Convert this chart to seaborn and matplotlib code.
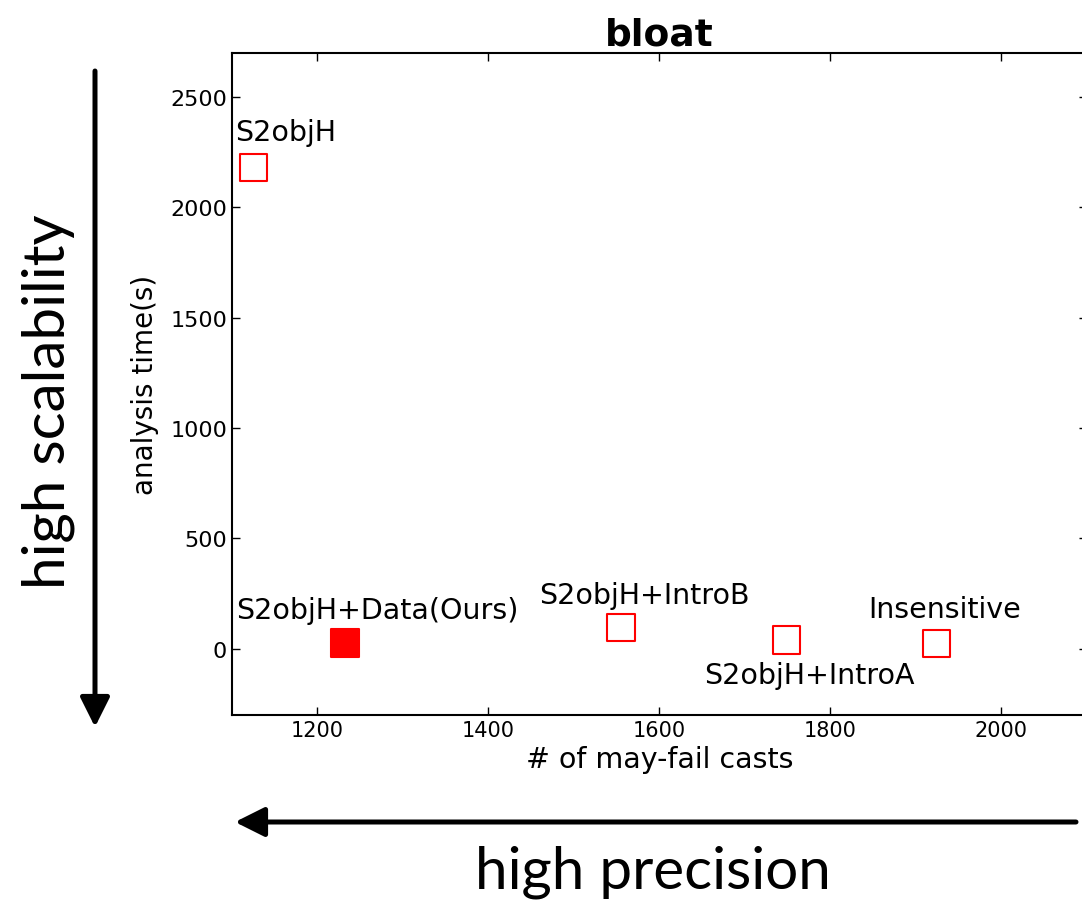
import matplotlib
matplotlib.use("Agg")
import matplotlib.pyplot as plt
import seaborn as sns
import pandas as pd

configs = ['S2objH', 'S2objH+Data(Ours)', 'S2objH+IntroB', 'S2objH+IntroA', 'Insensitive']
may_fail_casts = [1125, 1232, 1555, 1748, 1924]
analysis_time = [2180, 28, 95, 40, 23]
ours = [False, True, False, False, False]

df = pd.DataFrame({'config': configs, 'casts': may_fail_casts, 'time': analysis_time, 'ours': ours})

sns.set_style("ticks")
plt.rcParams['font.family'] = ['DejaVu Sans']
plt.rcParams['text.color'] = 'black'
plt.rcParams['axes.labelcolor'] = 'black'
plt.rcParams['xtick.direction'] = 'in'
plt.rcParams['ytick.direction'] = 'in'
plt.rcParams['xtick.top'] = True
plt.rcParams['ytick.right'] = True
plt.rcParams['xtick.major.size'] = 6
plt.rcParams['ytick.major.size'] = 6

fig = plt.figure(figsize=(10.82, 9.04), dpi=100)
ax = fig.add_axes([232 / 1082, 1 - 716 / 904, 855 / 1082, 662 / 904])

sns.scatterplot(data=df[~df['ours']], x='casts', y='time', marker='s', s=380,
                facecolor='none', edgecolor='red', linewidth=1.5, ax=ax)
sns.scatterplot(data=df[df['ours']], x='casts', y='time', marker='s', s=380,
                color='red', edgecolor='red', linewidth=1.5, ax=ax)

# label offsets in points (dx, dy, ha)
offsets = [(-13, 20, 'left'), (-78, 18, 'left'), (17, 18, 'center'), (17, -31, 'center'), (6, 19, 'center')]
for (name, x, y), (dx, dy, ha) in zip(zip(configs, may_fail_casts, analysis_time), offsets):
    ax.annotate(name, (x, y), xytext=(dx, dy), textcoords='offset points',
                ha=ha, va='baseline', fontsize=20.5, color='black')

ax.set_xlim(1100, 2100)
ax.set_ylim(-300, 2700)
ax.set_xticks([1200, 1400, 1600, 1800, 2000])
ax.set_yticks([0, 500, 1000, 1500, 2000, 2500])
ax.tick_params(axis='x', labelsize=15, width=1, colors='black')
ax.tick_params(axis='y', labelsize=16, width=1, colors='black')
for sp in ax.spines.values():
    sp.set_linewidth(1.5)
    sp.set_color('black')
    sp.set_visible(True)

ax.set_title('bloat', fontsize=27, fontweight='bold', pad=6, color='black')
ax.set_xlabel('# of may-fail casts', fontsize=20.5, labelpad=4)
ax.set_ylabel('analysis time(s)', fontsize=20, labelpad=8)

for start, end in [((95, 72), (95, 728)), ((1076, 823), (235, 823))]:
    fig.add_artist(matplotlib.patches.FancyArrowPatch(
        (start[0] / 1082, 1 - start[1] / 904), (end[0] / 1082, 1 - end[1] / 904),
        transform=fig.transFigure, mutation_scale=18, shrinkA=0, shrinkB=0,
        arrowstyle='-|>,head_width=0.5,head_length=1.0', lw=3.6, color='black'))
fig.text(48 / 1082, 1 - 402 / 904, 'high scalability', rotation=90, ha='center', va='center',
         fontsize=42, family='Lato')
fig.text(653 / 1082, 1 - 872 / 904, 'high precision', ha='center', va='center',
         fontsize=42, family='Lato')

fig.savefig('out.png', dpi=100)
